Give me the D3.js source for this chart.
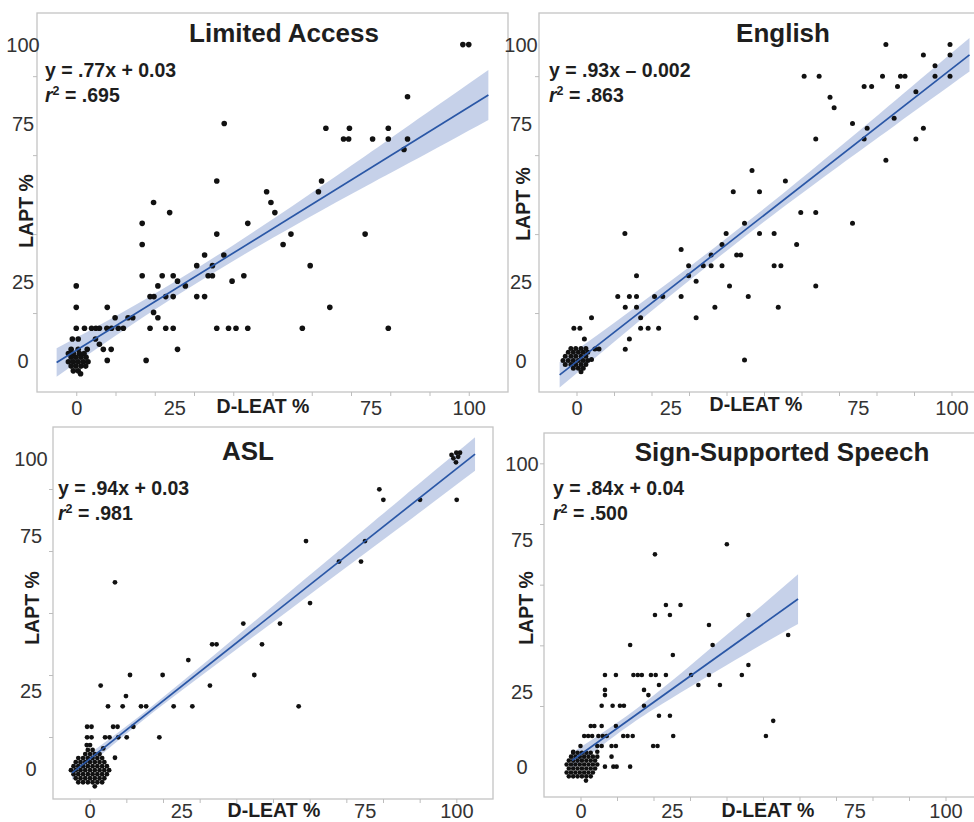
<!DOCTYPE html>
<html>
<head>
<meta charset="utf-8">
<script src="https://d3js.org/d3.v7.min.js"></script>
<style>
  body { margin: 0; background: #fff; }
  svg { display: block; font-family: "Liberation Sans", Arial, Helvetica, sans-serif; }
</style>
</head>
<body>
<svg id="chart" width="974" height="822"></svg>
<script>
// ---- data (D-LEAT %, LAPT %) ----
let titles = ["Limited Access", "English", "ASL", "Sign-Supported Speech"];
let equations = ["y = .77x + 0.03", "y = .93x \u2013 0.002", "y = .94x + 0.03", "y = .84x + 0.04"];
let rSquared = [".695", ".863", ".981", ".500"];

let xTickLabels = [0, 25, 75, 100];
let yTickLabels = [0, 25, 75, 100];

// fitted line as drawn (slope, intercept, x from, x to)
let fitSlope = [0.77, 0.927, 0.936, 0.86];
let fitIntercept = [3.2, -0.4, 2.9, 4.0];
let fitFrom = [-5, -4.5, -4.8, -2.3];
let fitTo = [105, 104.8, 105.1, 59.6];

// confidence band half width (LAPT units) at some x positions
let bandX = [
  [-5, 10, 25, 40, 55, 70, 85, 105],
  [-4.5, 10, 25, 40, 55, 70, 85, 104.8],
  [-4.8, 10, 25, 40, 55, 70, 85, 105.1],
  [-2.3, 10, 20, 30, 40, 50, 59.6]
];
let bandHalf = [
  [4.5, 3.1, 2.4, 2.5, 3.3, 4.5, 6.0, 7.9],
  [4.0, 3.0, 2.3, 2.0, 2.2, 2.9, 3.9, 5.3],
  [2.2, 1.2, 1.4, 2.1, 2.9, 3.7, 4.5, 5.4],
  [2.6, 1.9, 2.3, 3.5, 5.0, 6.5, 8.2]
];

let limitedAccess = [
  [98.5,100],[100,100],[84.4,83.5],[37.7,75],
  [63.6,73.5],[69.6,73.5],[79.5,73.5],
  [68.1,70.1],[69.4,70.1],[75.5,70.1],[79.5,70.1],[84.4,70.1],
  [83.5,66.8],[35.8,56.8],[62.5,56.8],[61.7,53.4],[48.5,53.4],
  [49.6,50],[19.7,50],[50.6,46.8],[23.8,46.8],[16.8,43.4],[43.7,43.4],
  [35.8,40],[54.7,40],[73.6,40],[16.8,36.7],[52.7,36.7],
  [32.7,33.4],[37.6,33.4],[30.7,30],[34.7,30],[59.6,30],
  [16.8,26.8],[21.9,26.8],[24.7,26.8],[33.6,26.8],[34.7,26.8],[42.7,26.8],
  [25.8,25.1],[39.7,25.1],[0,23.6],[20.8,23.6],[27.8,23.6],
  [18.8,20.2],[19.8,20.2],[22.8,20.2],[24.7,20.2],[30.7,20.2],[32.7,20.2],
  [0,16.8],[7.9,16.8],[64.6,16.8],[19.7,15.2],
  [9.9,13.5],[20.8,13.5],[13.2,13.5],[14.4,13.5],
  [0,10.2],[2.1,10.2],[3.9,10.2],[5.0,10.2],[5.9,10.2],[7.8,10.2],[9.0,10.2],[10.7,10.2],[12.0,10.2],
  [18.8,10.2],[22.8,10.2],[24.7,10.2],[35.8,10.2],[38.8,10.2],[40.7,10.2],[43.7,10.2],[57.6,10.2],[79.5,10.2],
  [-1.0,6.8],[0.5,6.8],[4.9,6.8],[5.9,5.1],
  [2.8,3.5],[6.9,3.5],[8.9,3.5],[25.8,3.5],[7.9,0],[17.8,0],
  [-1.3,3.5],[0.5,3.5],
  [-2.0,2.2],[-0.75,2.2],[0.8,2.2],[2.0,2.2],
  [-1.3,1.0],[-0.1,1.0],[1.2,1.0],[2.5,1.0],
  [-2.0,-0.4],[-0.75,-0.4],[0.5,-0.4],[1.8,-0.4],[3.0,-0.4],
  [-1.3,-1.8],[-0.1,-1.8],[1.2,-1.8],[2.4,-1.8],
  [-0.75,-3.3],[0.5,-3.3],[1.1,-4.2]
];

let english = [
  [82.5,100],[99.6,100],[92.5,96.7],[99.6,96.7],[95.6,93.3],
  [60.7,90],[64.7,90],[81.6,90],[86.4,90],[87.6,90],[95.6,90],[99.6,90],
  [76.7,86.7],[78.7,86.7],[85.6,86.7],[90.5,85.1],[67.6,83.3],[68.7,80],
  [84.7,76.7],[73.6,75],[77.5,73.5],[92.5,73.5],
  [63.8,70.1],[76.7,70.1],[90.5,70.1],[82.5,63.4],[46.8,60.1],[55.7,56.8],
  [41.8,53.4],[48.8,53.4],[59.8,46.8],[63.8,46.8],[44.8,43.4],[73.6,43.4],
  [12.9,40.2],[39.9,40.2],[48.8,40.2],[52.7,40.2],[38.8,36.7],[58.7,36.7],
  [27.9,35.1],[35.9,33.4],[42.7,33.4],[43.8,33.4],
  [29.9,30],[33.8,30],[35.9,30],[38.8,30],[52.7,30],[54.5,30],
  [16,26.8],[29.9,26.8],[31.9,25.1],[40.8,23.6],[63.8,23.6],
  [11,20.2],[14.1,20.2],[16,20.2],[20.8,20.2],[23,20.2],[27.9,20.2],[45.8,20.2],
  [13,16.8],[16,16.8],[36.9,16.8],[53.8,16.8],
  [4,13.5],[17.1,13.5],[31.9,13.5],
  [-0.7,10.2],[0.9,10.2],[17.1,10.2],[19.1,10.2],[21.9,10.2],
  [2.1,6.8],[14.1,6.8],[4.9,3.6],[6.0,3.6],[13,3.5],[4,0.3],[44.8,0.1],
  [-1.5,3.8],[-0.2,3.8],[1.2,3.8],[2.5,3.8],
  [-2.2,2.6],[-0.85,2.6],[0.5,2.6],[1.8,2.6],[3.0,2.6],
  [-3.0,1.3],[-1.5,1.3],[-0.2,1.3],[1.2,1.3],[2.5,1.3],
  [-3.6,0],[-2.2,0],[-0.85,0],[0.5,0],[1.8,0],[3.0,0],
  [-3.0,-1.3],[-1.5,-1.3],[-0.2,-1.3],[1.2,-1.3],[2.5,-1.3],
  [-0.85,-2.5],[0.5,-2.5],[1.8,-2.5],[1.2,-3.6]
];

let asl = [
  [98.7,101],[100,101.7],[101,101.7],[99.2,99.9],[100.5,100.4],[99.9,98.6],
  [79,89.9],[80.1,86.5],[90.1,86.5],[100.1,86.5],
  [59,73.2],[75.1,73.2],[68,66.6],[74,66.6],[6.9,59.9],[60.1,53.2],
  [41.9,46.6],[51.9,46.6],[33.4,39.9],[34.6,39.9],[47,39.9],[26.9,34.8],
  [11,30],[19.9,30],[44.9,30],[3,26.6],[32.8,26.6],[9.9,23.2],
  [5,19.9],[9,19.9],[14,19.9],[15.4,19.9],[22.9,19.9],[28,19.9],[57,19.9],
  [-0.7,13.3],[0.5,13.3],[6.4,13.3],[7.6,13.3],[11.9,13.3],
  [-0.7,9.9],[0.5,9.9],[4.2,9.9],[5.4,9.9],[7.8,9.9],[10.1,9.9],[19,9.9],
  [-0.8,7.4],[0.1,7.4],[3.7,6.3],[6.9,3.3],
  [-0.5,5.8],[0.8,5.8],
  [-1.2,4.5],[0.1,4.5],[1.4,4.5],[2.7,4.5],
  [-3.1,3.2],[-1.8,3.2],[-0.5,3.2],[0.8,3.2],[2.1,3.2],[3.4,3.2],
  [-3.8,1.9],[-2.5,1.9],[-1.2,1.9],[0.1,1.9],[1.4,1.9],[2.7,1.9],[4.0,1.9],
  [-4.4,0.6],[-3.1,0.6],[-1.8,0.6],[-0.5,0.6],[0.8,0.6],[2.1,0.6],[3.4,0.6],[4.7,0.6],
  [-5.1,-0.7],[-3.8,-0.7],[-2.5,-0.7],[-1.2,-0.7],[0.1,-0.7],[1.4,-0.7],[2.7,-0.7],[4.0,-0.7],[5.3,-0.7],
  [-4.4,-2.0],[-3.1,-2.0],[-1.8,-2.0],[-0.5,-2.0],[0.8,-2.0],[2.1,-2.0],[3.4,-2.0],[4.7,-2.0],
  [-3.8,-3.3],[-2.5,-3.3],[-1.2,-3.3],[0.1,-3.3],[1.4,-3.3],[2.7,-3.3],[4.0,-3.3],
  [-3.1,-4.6],[-1.8,-4.6],[-0.5,-4.6],[0.8,-4.6],[2.1,-4.6],[3.4,-4.6],
  [1.4,-5.9]
];

let signSupported = [
  [40.1,73.3],[20.4,70],[23.4,53.3],[27.4,53.3],[20.4,50],[24.5,50],[46,50],
  [35.2,46.7],[56.9,43.4],[36.2,40.1],[13.6,40.1],[25.3,36.8],[46,33.5],
  [6.7,30.2],[9.7,30.2],[14.5,30.2],[15.7,30.2],[16.8,30.2],[19.3,30.2],[20.6,30.2],
  [23.4,30.2],[30.3,30.2],[35.2,30.2],[44.2,30.2],
  [21.5,26.9],[32.3,26.9],[38.2,26.9],[6.7,25.3],[17.4,25.3],[6.7,23.6],[18.6,23.6],
  [5.8,20.1],[8.8,20.1],[10.8,20.1],[11.9,20.1],[17.4,20.1],
  [21.5,16.8],[24.5,16.8],[52.8,15.1],
  [2.8,13.4],[3.8,13.4],[5.8,13.4],[9.7,13.4],[25.4,10.1],[50.8,10.1],
  [1.0,10.1],[2.1,10.1],[3.2,10.1],[4.9,10.1],[6.1,10.1],[7.2,10.1],[11.7,10.1],[12.9,10.1],[14.3,10.1],
  [0,6.8],[4.6,6.8],[5.8,6.8],[8.5,6.8],[9.7,6.8],[19.9,6.8],[21.1,6.8],
  [-2.0,4.9],[4.6,4.9],[4.6,3.3],[8.5,3.3],
  [6.7,0],[9.0,0],[9.9,0],[13.6,0],
  [-2.0,4.6],[-0.8,4.6],[0.4,4.6],[1.6,4.6],[2.8,4.6],
  [-2.6,3.3],[-1.4,3.3],[-0.2,3.3],[1.0,3.3],[2.2,3.3],[3.4,3.3],
  [-3.2,2.0],[-2.0,2.0],[-0.8,2.0],[0.4,2.0],[1.6,2.0],[2.8,2.0],[4.0,2.0],
  [-3.8,0.7],[-2.6,0.7],[-1.4,0.7],[-0.2,0.7],[1.0,0.7],[2.2,0.7],[3.4,0.7],[4.6,0.7],
  [-3.2,-0.6],[-2.0,-0.6],[-0.8,-0.6],[0.4,-0.6],[1.6,-0.6],[2.8,-0.6],[4.0,-0.6],
  [-3.8,-1.9],[-2.6,-1.9],[-1.4,-1.9],[-0.2,-1.9],[1.0,-1.9],[2.2,-1.9],[3.4,-1.9],
  [-3.2,-3.2],[-2.0,-3.2],[-0.8,-3.2],[0.4,-3.2],[1.6,-3.2],[2.8,-3.2],
  [1.5,-4.6]
];

let points = [limitedAccess, english, asl, signSupported];

// ---- layout (pixels) ----
let layout = [
  {xr:[37,508], yr:[392,13], yTicks:[15,40,65,90], dotR:2.8,
   title:[284,42], eq:[45,77,102], yLab:23, yTitle:[33,211], xTitle:[263,412.5], xLab:415},
  {xr:[539,989], yr:[392,13], yTicks:[15,40,65,90], dotR:2.5,
   title:[783,42], eq:[549,77,102], yLab:521, yTitle:[530,204], xTitle:[756,411], xLab:415},
  {xr:[53,493], yr:[799,427], yTicks:[10,30,50,70,90], dotR:2.4,
   title:[248,460], eq:[58,495,520], yLab:31, yTitle:[39,608], xTitle:[274,816.5], xLab:818},
  {xr:[544,982], yr:[797,433], yTicks:[20,40,60,80,100], dotR:2.3,
   title:[782,461], eq:[553,495,520], yLab:522, yTitle:[533,608], xTitle:[768,816.5], xLab:818}
];

let svg = d3.select("#chart");
svg.append("rect").attr("width", 974).attr("height", 822).attr("fill", "#fff");

layout.forEach(function(L, i) {
  let x = d3.scaleLinear().domain([-10, 110]).range(L.xr);
  let y = d3.scaleLinear().domain([-10, 110]).range(L.yr);
  let g = svg.append("g");

  // frame
  g.append("rect")
    .attr("x", L.xr[0]).attr("y", L.yr[1])
    .attr("width", L.xr[1] - L.xr[0]).attr("height", L.yr[0] - L.yr[1])
    .attr("fill", "none").attr("stroke", "#c4c4c4").attr("stroke-width", 1.3);

  // small tick marks on the frame
  let minor = g.append("g").attr("transform", "translate(0," + L.yr[0] + ")")
    .call(d3.axisBottom(x).tickValues(d3.range(0, 101, 10)).tickSize(4).tickFormat(""));
  minor.select(".domain").remove();
  minor.selectAll("line").attr("stroke", "#bdbdbd");
  let minorY = g.append("g").attr("transform", "translate(" + L.xr[0] + ",0)")
    .call(d3.axisLeft(y).tickValues(L.yTicks).tickSize(4).tickFormat(""));
  minorY.select(".domain").remove();
  minorY.selectAll("line").attr("stroke", "#bdbdbd");

  // tick labels
  let xa = g.append("g").attr("transform", "translate(0," + (L.xLab - 14.5) + ")")
    .call(d3.axisBottom(x).tickValues(xTickLabels).tickSize(0).tickPadding(0));
  xa.select(".domain").remove();
  xa.selectAll("text").attr("font-size", 20).attr("fill", "#333")
    .attr("font-family", "'Liberation Sans', Arial, sans-serif");

  let ya = g.append("g").attr("transform", "translate(" + L.yLab + ",0)")
    .call(d3.axisLeft(y).tickValues(yTickLabels).tickSize(0).tickPadding(0));
  ya.select(".domain").remove();
  ya.selectAll("text").attr("x", 0).attr("text-anchor", "middle").attr("dy", "0.36em")
    .attr("font-size", 20).attr("fill", "#333")
    .attr("font-family", "'Liberation Sans', Arial, sans-serif");

  // axis titles
  g.append("text").attr("x", L.xTitle[0]).attr("y", L.xTitle[1])
    .attr("text-anchor", "middle").attr("font-size", 19.5).attr("font-weight", "bold")
    .attr("fill", "#1e1e1e").text("D-LEAT %");
  g.append("text")
    .attr("transform", "translate(" + L.yTitle[0] + "," + L.yTitle[1] + ") rotate(-90)")
    .attr("text-anchor", "middle").attr("font-size", 19.5).attr("font-weight", "bold")
    .attr("fill", "#1e1e1e").text("LAPT %");

  // confidence band
  let fit = function(v) { return fitSlope[i] * v + fitIntercept[i]; };
  let band = bandX[i].map(function(v, k) { return [v, bandHalf[i][k]]; });
  g.append("path").datum(band)
    .attr("fill", "#c3cfe8").attr("fill-opacity", 0.95)
    .attr("d", d3.area()
      .curve(d3.curveNatural)
      .x(function(d) { return x(d[0]); })
      .y0(function(d) { return y(fit(d[0]) - d[1]); })
      .y1(function(d) { return y(fit(d[0]) + d[1]); }));

  // points
  g.append("g").selectAll("circle")
    .data(points[i])
    .enter()
    .append("circle")
    .attr("cx", function(d) { return x(d[0]); })
    .attr("cy", function(d) { return y(d[1]); })
    .attr("r", L.dotR)
    .attr("fill", "#111");

  // fitted line
  g.append("path").datum([fitFrom[i], fitTo[i]])
    .attr("fill", "none").attr("stroke", "#2a57a6").attr("stroke-width", 1.7)
    .attr("d", d3.line()
      .x(function(d) { return x(d); })
      .y(function(d) { return y(fit(d)); }));

  // title and equation
  g.append("text").attr("x", L.title[0]).attr("y", L.title[1])
    .attr("text-anchor", "middle").attr("font-size", 26).attr("font-weight", "bold")
    .attr("fill", "#1e1e1e").text(titles[i]);

  g.append("text").attr("x", L.eq[0]).attr("y", L.eq[1])
    .attr("font-size", 19.5).attr("font-weight", "bold").attr("fill", "#1e1e1e")
    .text(equations[i]);

  let r2 = g.append("text").attr("x", L.eq[0]).attr("y", L.eq[2])
    .attr("font-size", 19.5).attr("font-weight", "bold").attr("fill", "#1e1e1e");
  r2.append("tspan").attr("font-style", "italic").text("r");
  r2.append("tspan").attr("font-size", 12.5).attr("dy", -7).text("2");
  r2.append("tspan").attr("dy", 7).text(" = " + rSquared[i]);
});
</script>
</body>
</html>
